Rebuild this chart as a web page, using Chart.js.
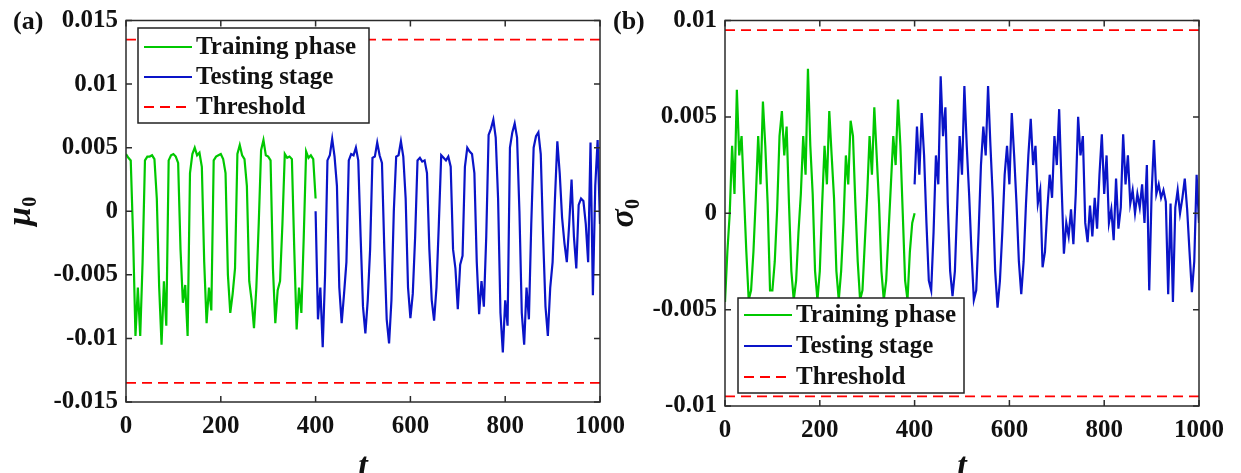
<!DOCTYPE html>
<html>
<head>
<meta charset="utf-8">
<script src="https://cdn.jsdelivr.net/npm/chart.js@4.4.1/dist/chart.umd.min.js"></script>
<style>
  html, body { margin: 0; padding: 0; background: #fff; }
  body { width: 1241px; height: 473px; position: relative; overflow: hidden; }
  canvas { position: absolute; top: 0; }
  #chartA { left: 0; }
  #chartB { left: 600px; }
</style>
</head>
<body>
<canvas id="chartA" width="640" height="473"></canvas>
<canvas id="chartB" width="641" height="473"></canvas>
<script>
// sample grid: t from 0 to 1000, every 5 steps
const tStep = 5;
const trainStart = 0;
const testStart = 400;

// (a) mu_0
const muTrain = [
  0.0045, 0.0042, 0.0040, -0.0020, -0.0098, -0.0060, -0.0098, -0.0040,
  0.0040, 0.0043, 0.0043, 0.0044, 0.0041, 0.0010, -0.0060, -0.0105, -0.0055, -0.0090,
  0.0040, 0.0044, 0.0045, 0.0043, 0.0038, -0.0030, -0.0072, -0.0058, -0.0098, 0.0030,
  0.0045, 0.0050, 0.0044, 0.0046, 0.0035, -0.0040, -0.0088, -0.0060, -0.0078, 0.0040,
  0.0043, 0.0044, 0.0045, 0.0041, 0.0030, -0.0050, -0.0080, -0.0065, -0.0045, 0.0045,
  0.0052, 0.0044, 0.0041, 0.0020, -0.0055, -0.0070, -0.0092, -0.0060, -0.0010, 0.0048,
  0.0056, 0.0044, 0.0043, 0.0040, -0.0045, -0.0088, -0.0062, -0.0055, -0.0010, 0.0045,
  0.0042, 0.0043, 0.0041, -0.0030, -0.0093, -0.0060, -0.0080, -0.0020, 0.0047, 0.0042,
  0.0044, 0.0041, 0.0010
];
const muTest = [
  0.0000, -0.0085, -0.0060, -0.0107, -0.0050, 0.0040, 0.0044, 0.0057, 0.0043, 0.0020,
  -0.0060, -0.0088, -0.0065, -0.0040, 0.0040, 0.0045, 0.0044, 0.0050, 0.0040, -0.0020,
  -0.0075, -0.0096, -0.0070, -0.0030, 0.0042, 0.0043, 0.0054, 0.0044, 0.0038, -0.0030,
  -0.0085, -0.0104, -0.0070, 0.0000, 0.0043, 0.0044, 0.0055, 0.0043, 0.0010, -0.0060,
  -0.0084, -0.0065, -0.0020, 0.0040, 0.0042, 0.0039, 0.0040, 0.0030, -0.0030, -0.0070,
  -0.0086, -0.0060, -0.0010, 0.0044, 0.0042, 0.0040, 0.0043, 0.0035, -0.0030, -0.0045,
  -0.0077, -0.0042, -0.0035, 0.0035, 0.0050, 0.0047, 0.0045, 0.0030, -0.0040, -0.0081,
  -0.0055, -0.0075, -0.0020, 0.0060, 0.0065, 0.0072, 0.0058, 0.0010, -0.0080, -0.0111,
  -0.0070, -0.0090, 0.0050, 0.0062, 0.0069, 0.0058, 0.0000, -0.0080, -0.0105, -0.0060,
  -0.0085, -0.0010, 0.0050, 0.0059, 0.0062, 0.0045, -0.0020, -0.0075, -0.0098, -0.0060,
  -0.0040, 0.0010, 0.0055, 0.0030, -0.0005, -0.0025, -0.0040, -0.0010, 0.0025, -0.0020,
  -0.0045, 0.0005, 0.0010, 0.0008, -0.0010, -0.0040, 0.0054, -0.0066, 0.0020, 0.0056,
  -0.0010
];
const muThreshold = 0.0135;

// (b) sigma_0
const sigmaTrain = [
  -0.0046, -0.0020, 0.0000, 0.0035, 0.0010, 0.0064, 0.0030, 0.0040, 0.0010, -0.0020,
  -0.0045, -0.0040, -0.0020, 0.0008, 0.0040, 0.0015, 0.0058, 0.0035, 0.0005, -0.0040,
  -0.0040, -0.0025, 0.0002, 0.0040, 0.0053, 0.0030, 0.0045, 0.0005, -0.0030, -0.0045,
  -0.0035, -0.0010, 0.0010, 0.0040, 0.0020, 0.0075, 0.0035, 0.0010, -0.0030, -0.0045,
  -0.0030, 0.0005, 0.0035, 0.0015, 0.0053, 0.0030, 0.0008, -0.0030, -0.0045, -0.0030,
  -0.0005, 0.0030, 0.0015, 0.0048, 0.0040, 0.0005, -0.0025, -0.0045, -0.0040, -0.0015,
  0.0010, 0.0040, 0.0020, 0.0055, 0.0030, 0.0005, -0.0030, -0.0045, -0.0035, -0.0010,
  0.0015, 0.0040, 0.0025, 0.0059, 0.0035, 0.0000, -0.0035, -0.0045, -0.0020, -0.0005,
  0.0000
];
const sigmaTest = [
  0.0015, 0.0045, 0.0020, 0.0052, 0.0030, -0.0005, -0.0035, -0.0040, -0.0010, 0.0030,
  0.0015, 0.0071, 0.0040, 0.0055, 0.0005, -0.0030, -0.0043, -0.0030, 0.0005, 0.0040,
  0.0020, 0.0066, 0.0035, 0.0010, -0.0020, -0.0045, -0.0040, -0.0010, 0.0025, 0.0045,
  0.0030, 0.0066, 0.0035, 0.0008, -0.0030, -0.0049, -0.0035, -0.0010, 0.0020, 0.0035,
  0.0015, 0.0052, 0.0030, 0.0005, -0.0025, -0.0042, -0.0025, 0.0005, 0.0030, 0.0049,
  0.0025, 0.0035, 0.0005, 0.0012, -0.0028, -0.0020, 0.0002, 0.0020, 0.0008, 0.0040,
  0.0025, 0.0054, 0.0015, -0.0021, -0.0005, -0.0012, 0.0002, -0.0016, 0.0010, 0.0050,
  0.0030, 0.0040, -0.0005, -0.0015, 0.0004, -0.0012, 0.0008, -0.0008, 0.0020, 0.0041,
  0.0010, 0.0030, -0.0005, 0.0002, -0.0014, 0.0018, -0.0008, 0.0003, 0.0041, 0.0015,
  0.0030, 0.0005, 0.0012, 0.0000, 0.0010, 0.0003, 0.0015, -0.0005, 0.0025, -0.0040,
  0.0010, 0.0038, 0.0010, 0.0015, 0.0008, 0.0012, 0.0006, -0.0042, 0.0005, -0.0046,
  0.0003, 0.0012, 0.0000, 0.0008, 0.0018, 0.0002, -0.0020, -0.0041, -0.0025, 0.0020,
  -0.0005
];
const sigmaThreshold = 0.0095;

// axes
const xTicks = [0, 200, 400, 600, 800, 1000];
const xTickLabels = ['0', '200', '400', '600', '800', '1000'];
const muTicks = [-0.015, -0.01, -0.005, 0, 0.005, 0.01, 0.015];
const muTickLabels = ['-0.015', '-0.01', '-0.005', '0', '0.005', '0.01', '0.015'];
const sigmaTicks = [-0.01, -0.005, 0, 0.005, 0.01];
const sigmaTickLabels = ['-0.01', '-0.005', '0', '0.005', '0.01'];
const seriesNames = ['Training phase', 'Testing stage', 'Threshold'];

const GREEN = '#00c800';
const BLUE = '#0a14c8';
const RED = '#ff0000';
const INK = '#111111';
const SERIF = '"Liberation Serif", "Times New Roman", serif';

function toPoints(values, start) {
  return values.map((v, i) => ({ x: start + i * tStep, y: v }));
}

// frame, inward ticks, legend box, titles
const matlabLook = {
  id: 'matlabLook',
  afterDatasetsDraw(chart, args, o) {
    const ctx = chart.ctx;
    const a = chart.chartArea;
    const xs = chart.scales.x, ys = chart.scales.y;
    ctx.save();

    // legend
    const lb = o.legend;
    ctx.fillStyle = '#fff';
    ctx.fillRect(lb.left, lb.top, lb.width, lb.height);
    ctx.strokeStyle = '#222';
    ctx.lineWidth = 1.5;
    ctx.strokeRect(lb.left, lb.top, lb.width, lb.height);
    chart.data.datasets.filter(d => d.label).forEach((ds, i) => {
      const y = lb.top + lb.firstRow + i * lb.rowGap;
      ctx.strokeStyle = ds.borderColor;
      ctx.lineWidth = 2;
      ctx.setLineDash(ds.borderDash || []);
      ctx.beginPath();
      ctx.moveTo(lb.left + 6, y);
      ctx.lineTo(lb.left + 54, y);
      ctx.stroke();
      ctx.setLineDash([]);
      ctx.fillStyle = INK;
      ctx.font = 'bold 25px ' + SERIF;
      ctx.textBaseline = 'middle';
      ctx.textAlign = 'left';
      ctx.fillText(ds.label, lb.left + 58, y + 1);
    });

    // box + inward ticks
    ctx.strokeStyle = '#2b2b2b';
    ctx.lineWidth = 1.5;
    ctx.strokeRect(a.left, a.top, a.right - a.left, a.bottom - a.top);
    ctx.beginPath();
    xs.ticks.forEach(t => {
      const px = xs.getPixelForValue(t.value);
      ctx.moveTo(px, a.bottom); ctx.lineTo(px, a.bottom - 6);
      ctx.moveTo(px, a.top); ctx.lineTo(px, a.top + 6);
    });
    ys.ticks.forEach(t => {
      const py = ys.getPixelForValue(t.value);
      ctx.moveTo(a.left, py); ctx.lineTo(a.left + 6, py);
      ctx.moveTo(a.right, py); ctx.lineTo(a.right - 6, py);
    });
    ctx.stroke();

    // panel tag
    ctx.fillStyle = INK;
    ctx.font = 'bold 26px ' + SERIF;
    ctx.textAlign = 'left';
    ctx.textBaseline = 'middle';
    ctx.fillText(o.tag, 13, 22);

    // x title
    ctx.font = 'italic bold 34px ' + SERIF;
    ctx.textAlign = 'center';
    ctx.textBaseline = 'alphabetic';
    ctx.fillText('t', (a.left + a.right) / 2, 476);

    // y title (rotated, with subscript)
    ctx.translate(o.yTitleX, (a.top + a.bottom) / 2);
    ctx.rotate(-Math.PI / 2);
    ctx.font = 'italic bold 34px ' + SERIF;
    const w1 = ctx.measureText(o.symbol).width;
    ctx.font = 'bold 20px ' + SERIF;
    const w2 = ctx.measureText('0').width;
    ctx.textAlign = 'left';
    ctx.font = 'italic bold 34px ' + SERIF;
    ctx.fillText(o.symbol, -(w1 + w2) / 2, 0);
    ctx.font = 'bold 20px ' + SERIF;
    ctx.fillText('0', -(w1 + w2) / 2 + w1, 6);

    ctx.restore();
  }
};

function makeChart(id, train, test, thr, yTicks, yLabels, opts) {
  const tickFont = { family: SERIF, size: 25, weight: 'bold', lineHeight: 1 };
  return new Chart(document.getElementById(id), {
    type: 'line',
    data: {
      datasets: [
        { label: seriesNames[0], data: toPoints(train, trainStart), borderColor: GREEN, borderWidth: 2.2 },
        { label: seriesNames[1], data: toPoints(test, testStart), borderColor: BLUE, borderWidth: 2.2 },
        { label: seriesNames[2], data: [{ x: 0, y: thr }, { x: 1000, y: thr }], borderColor: RED, borderWidth: 1.8, borderDash: [10, 6] },
        { data: [{ x: 0, y: -thr }, { x: 1000, y: -thr }], borderColor: RED, borderWidth: 1.8, borderDash: [10, 6] }
      ]
    },
    options: {
      responsive: false,
      animation: false,
      events: [],
      elements: { point: { radius: 0 }, line: { tension: 0 } },
      layout: { padding: opts.padding },
      plugins: {
        legend: { display: false },
        tooltip: { enabled: false },
        matlabLook: opts.look
      },
      scales: {
        x: {
          type: 'linear', min: 0, max: 1000,
          afterBuildTicks: s => { s.ticks = xTicks.map(v => ({ value: v })); },
          afterFit: s => { s.height = opts.xHeight; },
          grid: { display: false, drawTicks: false },
          border: { display: false },
          ticks: {
            font: tickFont, color: INK, padding: 12, maxRotation: 0, autoSkip: false,
            callback: v => xTickLabels[xTicks.indexOf(v)]
          }
        },
        y: {
          min: yTicks[0], max: yTicks[yTicks.length - 1],
          afterBuildTicks: s => { s.ticks = yTicks.map(v => ({ value: v })); },
          afterFit: s => { s.width = opts.yWidth; },
          grid: { display: false, drawTicks: false },
          border: { display: false },
          ticks: {
            font: tickFont, color: INK, padding: 8, autoSkip: false,
            callback: v => yLabels[yTicks.indexOf(v)]
          }
        }
      }
    },
    plugins: [matlabLook]
  });
}

makeChart('chartA', muTrain, muTest, muThreshold, muTicks, muTickLabels, {
  padding: { top: 14, right: 40, left: 0, bottom: 0 },
  xHeight: 71, yWidth: 126,
  look: { tag: '(a)', symbol: 'μ', yTitleX: 30,
          legend: { left: 138, top: 28, width: 231, height: 95, firstRow: 19, rowGap: 30 } }
});

makeChart('chartB', sigmaTrain, sigmaTest, sigmaThreshold, sigmaTicks, sigmaTickLabels, {
  padding: { top: 16, right: 42, left: 0, bottom: 0 },
  xHeight: 67, yWidth: 125,
  look: { tag: '(b)', symbol: 'σ', yTitleX: 33,
          legend: { left: 138, top: 298, width: 226, height: 95, firstRow: 17, rowGap: 31 } }
});
</script>
</body>
</html>
